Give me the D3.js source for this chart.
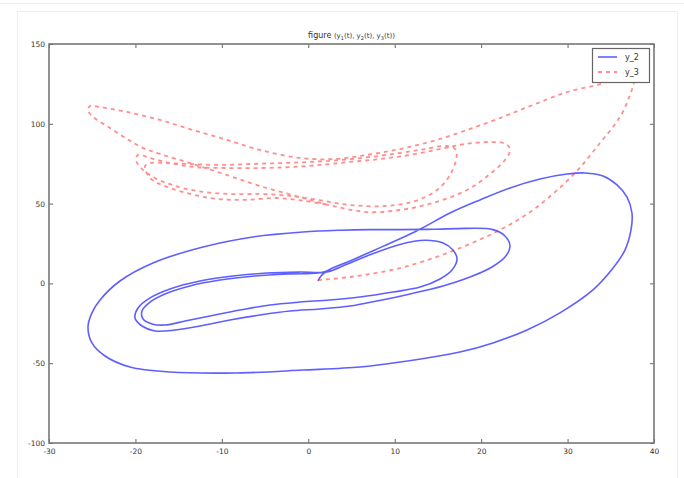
<!DOCTYPE html>
<html>
<head>
<meta charset="utf-8">
<script src="https://cdn.jsdelivr.net/npm/d3@7"></script>
<style>
  body { margin: 0; background: #fff; }
  svg { display: block; }
  text { font-family: "DejaVu Sans", sans-serif; fill: #333; }
</style>
</head>
<body>
<div id="chart"></div>
<script>
// axis ticks
const xTicks = [-30, -20, -10, 0, 10, 20, 30, 40];
const yTicks = [-100, -50, 0, 50, 100, 150];

// y_2 against y_1 (blue solid), points in time order: [y1, y2]
const y2Path = [
  [1.12, 1.5], [1.47, 4.6], [2.16, 7.8], [4.83, 14.1], [8.64, 23.2], [12.58, 33.0],
  [16.40, 44.1], [19.87, 52.3], [23.34, 59.8], [26.81, 65.4], [29.93, 68.5], [32.02, 69.2],
  [34.10, 67.3], [35.72, 61.7], [36.88, 54.1], [37.45, 44.1], [37.34, 33.5], [36.64, 20.9],
  [35.26, 9.6], [32.94, -4.1], [29.12, -18.5], [25.31, -29.2], [21.37, -37.3], [17.55, -43.0],
  [13.74, -46.7], [9.80, -49.9], [5.98, -52.4], [-0.61, -54.3], [-8.25, -56.1], [-16.00, -55.5],
  [-20.63, -52.4], [-23.52, -45.5], [-25.03, -37.3], [-25.49, -27.3], [-25.03, -18.5],
  [-24.10, -10.4], [-21.79, 1.5], [-17.97, 12.8], [-12.18, 22.8], [-6.40, 29.1], [-0.61, 32.2],
  [3.67, 33.3], [7.14, 33.7], [10.61, 33.7], [14.43, 33.9], [18.36, 34.5], [21.37, 33.7],
  [22.76, 29.7], [23.34, 23.4], [22.76, 16.5], [21.26, 10.3], [18.71, 4.0], [15.59, -1.6],
  [11.77, -6.6], [7.95, -11.0], [4.83, -14.2],
  [1.35, -16.0], [-2.12, -17.3], [-5.59, -19.8], [-9.06, -22.9], [-12.53, -26.7],
  [-15.42, -29.2], [-17.74, -29.8], [-19.24, -26.7], [-20.05, -21.7], [-19.70, -15.4],
  [-18.31, -9.1], [-16.00, -3.5], [-12.53, 1.5], [-8.71, 4.6], [-4.78, 6.5], [-0.96, 7.1],
  [2.16, 7.1],
  [4.25, 11.5], [6.79, 17.2], [10.61, 24.4], [13.50, 27.0], [15.59, 25.3], [16.74, 20.9],
  [17.21, 15.3], [16.63, 8.4], [15.24, 2.8], [12.93, -2.3], [9.80, -5.4], [5.98, -8.5],
  [2.51, -10.4],
  [-0.96, -11.7], [-4.43, -13.5], [-7.90, -16.7], [-11.37, -20.4], [-14.26, -23.6],
  [-16.58, -26.1], [-18.08, -25.4], [-19.12, -22.3], [-19.24, -17.3], [-18.31, -11.7],
  [-16.58, -6.6], [-13.69, -1.6], [-10.21, 2.1], [-6.17, 4.6], [-2.12, 5.9], [1.12, 6.5],
  [2.51, 8.4]
];

// y_3 against y_1 (red dashed), points in time order: [y1, y3]
const y3Path = [
  [1.12, 2.1], [4.83, 4.0], [10.61, 9.6], [16.40, 19.7], [22.18, 33.5], [26.00, 46.0],
  [30.63, 67.9], [33.76, 88.0], [36.07, 104.3], [37.22, 118.0], [37.69, 127.4], [37.4, 132.5],
  [36.6, 133.5], [35.49, 128.7], [33.76, 124.9], [29.93, 119.9], [26.00, 111.8], [22.18, 103.6],
  [18.36, 96.1], [14.43, 89.2], [10.61, 84.2], [6.79, 80.5], [2.86, 77.9], [-0.96, 78.6],
  [-5.59, 83.6], [-9.41, 89.9], [-13.34, 96.1], [-17.16, 102.4], [-20.98, 107.4],
  [-24.10, 110.5], [-25.26, 111.2], [-25.49, 108.6], [-25.03, 104.9], [-22.94, 97.4],
  [-20.98, 90.5], [-19.12, 84.8], [-17.16, 81.1], [-13.34, 74.8], [-9.41, 67.9], [-5.59, 61.0],
  [-0.96, 54.1], [2.86, 48.5], [6.79, 44.7], [10.61, 46.0], [14.43, 50.4], [18.36, 58.5],
  [21.02, 68.5], [22.76, 77.3], [23.34, 83.6],
  [22.88, 87.3], [21.02, 88.6], [18.13, 87.3], [15.24, 84.2], [11.77, 80.5], [8.30, 77.9],
  [4.83, 76.1], [1.35, 74.2], [-2.12, 72.9], [-5.59, 72.3], [-9.64, 72.3], [-13.11, 72.9],
  [-16.00, 75.4], [-18.31, 78.6], [-19.70, 80.5],
  [-19.93, 77.3], [-19.36, 72.3], [-17.97, 66.7], [-15.77, 61.7], [-12.88, 57.9],
  [-9.06, 56.0], [-5.36, 56.0], [-2.12, 54.8], [1.12, 52.3], [4.83, 49.1], [8.88, 48.5],
  [12.35, 51.6], [14.89, 58.5], [16.40, 67.9], [17.09, 77.3], [17.09, 83.6],
  [16.05, 86.1], [13.50, 84.2], [10.61, 81.7], [7.14, 79.2], [3.67, 77.3], [0.20, 76.1],
  [-3.27, 75.4], [-6.74, 74.8], [-10.21, 74.2], [-13.69, 74.8], [-16.58, 75.4],
  [-18.31, 75.4], [-18.89, 73.5],
  [-18.31, 66.0], [-16.00, 59.8], [-11.37, 53.5], [-7.55, 52.3], [-3.62, 53.5],
  [-0.38, 51.6], [2.51, 49.1]
];

const W = 684, H = 478;
const plot = { left: 49, right: 654, top: 44, bottom: 443 };

const svg = d3.select("#chart").append("svg")
  .attr("width", W)
  .attr("height", H);

// faint figure border
svg.append("line").attr("x1", 0).attr("x2", W).attr("y1", 3.5).attr("y2", 3.5)
  .attr("stroke", "#eee");
svg.append("rect")
  .attr("x", 17.5).attr("y", 11.5).attr("width", 660).attr("height", 470)
  .attr("fill", "none").attr("stroke", "#eee");

const x = d3.scaleLinear().domain([-30, 40]).range([plot.left, plot.right]);
const y = d3.scaleLinear().domain([-100, 150]).range([plot.bottom, plot.top]);

const line = d3.line()
  .x(d => x(d[0]))
  .y(d => y(d[1]))
  .curve(d3.curveCatmullRom.alpha(0.5));

// lines
svg.append("path")
  .datum(y2Path)
  .attr("fill", "none")
  .attr("stroke", "#2a2aff")
  .attr("stroke-opacity", 0.75)
  .attr("stroke-width", 1.6)
  .attr("d", line);

svg.append("path")
  .datum(y3Path)
  .attr("fill", "none")
  .attr("stroke", "#ff2020")
  .attr("stroke-opacity", 0.5)
  .attr("stroke-width", 1.8)
  .attr("stroke-dasharray", "4,4")
  .attr("d", line);

// axes (ticks pointing inward on all four sides)
const fmt = d => String(d);
svg.append("g")
  .attr("transform", `translate(0,${plot.bottom})`)
  .call(d3.axisBottom(x).tickValues(xTicks).tickFormat(fmt).tickSizeInner(-4).tickSizeOuter(0).tickPadding(6))
  .call(g => g.select(".domain").remove());
svg.append("g")
  .attr("transform", `translate(0,${plot.top})`)
  .call(d3.axisTop(x).tickValues(xTicks).tickFormat("").tickSizeInner(-4).tickSizeOuter(0))
  .call(g => g.select(".domain").remove());
svg.append("g")
  .attr("transform", `translate(${plot.left},0)`)
  .call(d3.axisLeft(y).tickValues(yTicks).tickFormat(fmt).tickSizeInner(-4).tickSizeOuter(0).tickPadding(4))
  .call(g => g.select(".domain").remove());
svg.append("g")
  .attr("transform", `translate(${plot.right},0)`)
  .call(d3.axisRight(y).tickValues(yTicks).tickFormat("").tickSizeInner(-4).tickSizeOuter(0))
  .call(g => g.select(".domain").remove());

svg.selectAll(".tick line").attr("stroke", "#666");
svg.selectAll(".tick text").attr("font-size", 7.5).attr("fill", "#444")
  .style("font-family", "DejaVu Sans, sans-serif");

// frame
svg.append("rect")
  .attr("x", plot.left).attr("y", plot.top)
  .attr("width", plot.right - plot.left).attr("height", plot.bottom - plot.top)
  .attr("fill", "none").attr("stroke", "#777").attr("stroke-width", 1.6);

// title: "figure (y_1(t), y_2(t), y_3(t))" with subscripts
const title = svg.append("text")
  .attr("x", (plot.left + plot.right) / 2)
  .attr("y", 38)
  .attr("text-anchor", "middle")
  .attr("font-size", 8);
title.append("tspan").text("figure ");
const parts = [["(y", "1"], ["(t), y", "2"], ["(t), y", "3"]];
parts.forEach((p, i) => {
  title.append("tspan").attr("font-size", 7).attr("dy", i === 0 ? 0 : -2).text(p[0]);
  title.append("tspan").attr("font-size", 5).attr("dy", 2).text(p[1]);
});
title.append("tspan").attr("font-size", 7).attr("dy", -2).text("(t))");

// legend
const leg = svg.append("g");
leg.append("rect")
  .attr("x", 592.5).attr("y", 48.5).attr("width", 57).attr("height", 34)
  .attr("fill", "#fff").attr("stroke", "#666").attr("stroke-width", 1.2);
const legItems = [
  { label: "y_2", color: "#2a2aff", op: 0.75, dash: null, width: 1.6 },
  { label: "y_3", color: "#ff2020", op: 0.5, dash: "4,4", width: 1.8 }
];
legItems.forEach((d, i) => {
  const yy = 57 + i * 15;
  leg.append("line")
    .attr("x1", 598).attr("x2", 617).attr("y1", yy).attr("y2", yy)
    .attr("stroke", d.color).attr("stroke-opacity", d.op)
    .attr("stroke-width", d.width)
    .attr("stroke-dasharray", d.dash);
  leg.append("text")
    .attr("x", 625).attr("y", yy + 3)
    .attr("font-size", 8)
    .text(d.label);
});
</script>
</body>
</html>
